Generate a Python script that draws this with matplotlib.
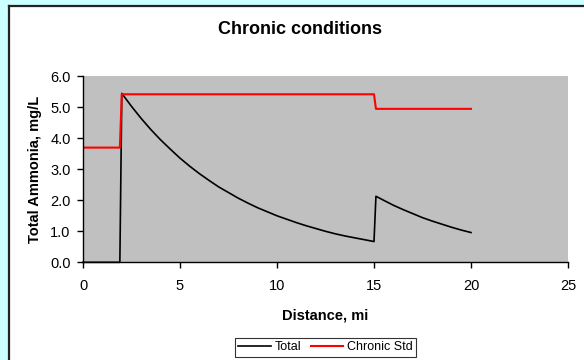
import matplotlib
matplotlib.use("Agg")
import matplotlib.pyplot as plt
from matplotlib.patches import Rectangle
from matplotlib.lines import Line2D

plt.rcParams['font.family'] = ['Liberation Sans', 'DejaVu Sans']

# Data
total_x = [0.0, 1.9, 2.0, 2.5, 3.0, 3.5, 4.0, 4.5, 5.0, 5.5, 6.0, 6.5, 7.0, 7.5, 8.0,
           8.5, 9.0, 9.5, 10.0, 10.5, 11.0, 11.5, 12.0, 12.5, 13.0, 13.5, 14.0,
           14.5, 15.0, 15.1, 15.5, 16.0, 16.5, 17.0, 17.5, 18.0, 18.5, 19.0,
           19.5, 20.0]
total_y = [0.0, 0.0, 5.45, 5.03, 4.64, 4.28, 3.95, 3.65, 3.36, 3.10, 2.86, 2.64,
           2.43, 2.25, 2.07, 1.91, 1.76, 1.63, 1.50, 1.39, 1.28, 1.18, 1.09, 1.00,
           0.92, 0.85, 0.79, 0.73, 0.67, 2.13, 2.00, 1.84, 1.70, 1.57, 1.44, 1.33,
           1.23, 1.13, 1.04, 0.96]
std_x = [0.0, 1.9, 2.0, 15.0, 15.1, 20.0]
std_y = [3.7, 3.7, 5.42, 5.42, 4.95, 4.95]

x_ticks = [0, 5, 10, 15, 20, 25]
y_ticks = [0, 1, 2, 3, 4, 5, 6]

W, H = 584, 360
fig = plt.figure(figsize=(W / 100, H / 100), dpi=100)
fig.patch.set_facecolor('#CCFFFF')

# white chart area with dark left/top border (extends beyond right/bottom)
x0, y0 = 8.5 / W, 1 - 5.5 / H
fig.patches.append(Rectangle((x0, 0), 1 - x0, y0, transform=fig.transFigure,
                             facecolor='white', edgecolor='none', zorder=-5))
fig.add_artist(Line2D([x0, x0], [0, y0], transform=fig.transFigure,
                      color='#222222', lw=1.6, zorder=-4))
fig.add_artist(Line2D([x0, 1], [y0, y0], transform=fig.transFigure,
                      color='#222222', lw=1.6, zorder=-4))

ax = fig.add_axes([83 / W, 1 - 262.3 / H, (568 - 83) / W, (262.3 - 76.3) / H])
ax.set_zorder(2)
ax.set_facecolor('#C0C0C0')

ax.plot(total_x, total_y, color='black', lw=1.2, label='Total', clip_on=False)
ax.plot(std_x, std_y, color='#FF0000', lw=1.5, label='Chronic Std')

ax.set_xlim(0, 25)
ax.set_ylim(0, 6)
ax.set_xticks(x_ticks)
ax.set_yticks(y_ticks)
ax.set_yticklabels([f'{v:.1f}' for v in y_ticks])
ax.tick_params(direction='out', length=4, width=1, labelsize=10.5,
               colors='black')
ax.tick_params(axis='x', pad=8)
ax.tick_params(axis='y', pad=5)

for s in ['top', 'right']:
    ax.spines[s].set_visible(False)
for s in ['left', 'bottom']:
    ax.spines[s].set_color('black')
    ax.spines[s].set_linewidth(1.0)

ax.set_xlabel('Distance, mi', fontsize=10.5, fontweight='bold', labelpad=11)
ax.set_ylabel('Total Ammonia, mg/L', fontsize=10.5, fontweight='bold', labelpad=6)

fig.text(300 / W, 1 - 29 / H, 'Chronic conditions', ha='center', va='center',
         fontsize=13, fontweight='bold')

leg = fig.legend(loc='center', bbox_to_anchor=(325.5 / W, 1 - 347.5 / H),
                 ncol=2, fontsize=9, frameon=True, fancybox=False,
                 handlelength=2.6, handletextpad=0.3, columnspacing=0.8,
                 borderpad=0.25, edgecolor='black')
leg.get_frame().set_linewidth(0.8)
leg.set_zorder(3)

fig.savefig('out.png', dpi=100, facecolor=fig.get_facecolor())
